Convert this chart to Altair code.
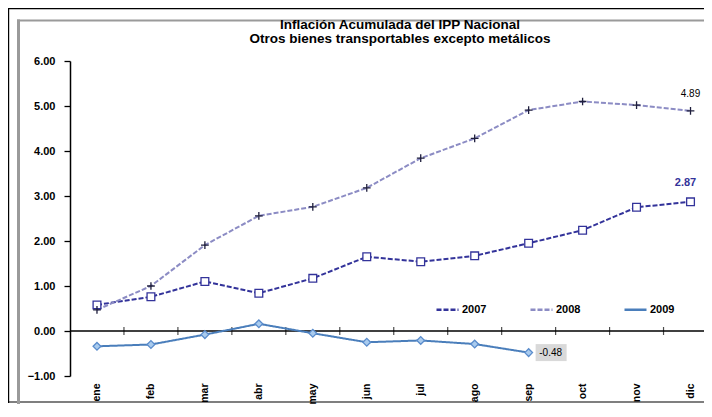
import altair as alt
import pandas as pd

months = ["ene", "feb", "mar", "abr", "may", "jun", "jul", "ago", "sep", "oct", "nov", "dic"]
years = ["2007", "2008", "2009"]
v2007 = [0.58, 0.76, 1.10, 0.84, 1.17, 1.65, 1.54, 1.67, 1.95, 2.24, 2.75, 2.87]
v2008 = [0.47, 1.00, 1.91, 2.56, 2.76, 3.18, 3.84, 4.28, 4.91, 5.10, 5.02, 4.89]
v2009 = [-0.34, -0.30, -0.08, 0.16, -0.05, -0.25, -0.21, -0.29, -0.48]
y_ticks = [-1, 0, 1, 2, 3, 4, 5, 6]
title_lines = ["Inflación Acumulada del IPP Nacional",
               "Otros bienes transportables excepto metálicos"]

line_colors = ["#33339a", "#8c8cc4", "#4a7ebb"]
marker_stroke = ["#33339a", "#1e1e3c", "#5a8ccc"]
marker_fill = ["#ffffff", "#1e1e3c", "#a9cbee"]
marker_shape = ["square", "M-1,0H1M0,-1V1", "diamond"]
dashes = [[5, 2], [5, 2], [1, 0]]

rows = []
for yr, vals in zip(years, [v2007, v2008, v2009]):
    for i, v in enumerate(vals):
        rows.append({"idx": i + 1, "mes": months[i], "year": yr, "value": v})
df = pd.DataFrame(rows)

bounds = pd.DataFrame({"b": [i + 0.5 for i in range(1, len(months))]})

label_expr = "[" + ",".join("'%s'" % m for m in months) + "][datum.value - 1]"

W, H = 634, 315

xscale = alt.Scale(domain=[0.5, 12.25], nice=False, zero=False)
yscale = alt.Scale(domain=[-1, 6], nice=False, zero=False)

x_enc = alt.X("idx:Q", scale=xscale,
              axis=alt.Axis(values=list(range(1, 13)), labelExpr=label_expr,
                            labelAngle=270, domain=False, ticks=False, tickSize=0,
                            labelPadding=7, labelFontSize=10.5, labelFontWeight="bold",
                            labelColor="black", grid=False, title=None))
y_enc = alt.Y("value:Q", scale=yscale,
              axis=alt.Axis(values=y_ticks, format=".2f", grid=False, title=None,
                            domainColor="black", domainWidth=1.5, tickColor="black",
                            tickSize=6, tickWidth=1.3, labelPadding=9, labelFontSize=11,
                            labelFontWeight="bold", labelColor="black"))

legend_kw = dict(orient="none", legendX=365, legendY=236, direction="horizontal",
                 title=None, symbolType="stroke", symbolSize=484, symbolStrokeWidth=2.5,
                 labelFontSize=11, labelFontWeight="bold", labelColor="black",
                 columnPadding=38, labelOffset=2)

base = alt.Chart(df)

lines = base.mark_line(strokeWidth=2).encode(
    x=x_enc, y=y_enc,
    color=alt.Color("year:N", scale=alt.Scale(domain=years, range=line_colors),
                    legend=alt.Legend(**legend_kw)),
    strokeDash=alt.StrokeDash("year:N", scale=alt.Scale(domain=years, range=dashes),
                              legend=alt.Legend(**legend_kw)),
)

point_layers = []
for yr, shp, stc, flc in zip(years, marker_shape, marker_stroke, marker_fill):
    point_layers.append(
        base.transform_filter(alt.datum.year == yr).mark_point(
            shape=shp, stroke=stc, fill=flc, filled=False, strokeWidth=1.3,
            opacity=1, fillOpacity=1, size=60,
        ).encode(x="idx:Q", y="value:Q")
    )

zero = alt.Chart(pd.DataFrame({"z": [0]})).mark_rule(color="black", strokeWidth=1.5).encode(
    y=alt.Y("z:Q"))

ticks = alt.Chart(bounds).mark_tick(orient="vertical", size=8, thickness=1.2, color="black").encode(
    x="b:Q", y=alt.datum(0))

def last_of(yr):
    d = df[df.year == yr].iloc[[-1]].copy()
    d["t"] = d.value.map(lambda v: "%.2f" % v)
    return d

last07, last08, last09 = last_of("2007"), last_of("2008"), last_of("2009")

lab07 = alt.Chart(last07).mark_text(dy=-19, dx=-5, fontSize=11, fontWeight="bold", color="#33339a").encode(
    x="idx:Q", y="value:Q", text="t:N")
lab08 = alt.Chart(last08).mark_text(dy=-17, fontSize=10, color="black").encode(
    x="idx:Q", y="value:Q", text="t:N")
box09 = alt.Chart(last09).mark_rect(width=31, height=17, xOffset=22.5, color="#d9d9d9").encode(
    x="idx:Q", y="value:Q")
lab09 = alt.Chart(last09).mark_text(dx=22, fontSize=10, color="black").encode(
    x="idx:Q", y="value:Q", text="t:N")

fr = alt.Chart(pd.DataFrame({"a": [0]}))
black_left = fr.mark_rule(color="black", strokeWidth=1.2).encode(
    x=alt.value(-61.4), y=alt.value(-52.5), y2=alt.value(342))
black_top = fr.mark_rule(color="black", strokeWidth=1.2).encode(
    x=alt.value(-62), x2=alt.value(W), y=alt.value(-52.4))
black_bottom = fr.mark_rule(color="black", strokeWidth=1.2).encode(
    x=alt.value(-62), x2=alt.value(W), y=alt.value(341))
gray_top = fr.mark_rule(color="#9a9a9a", strokeWidth=2).encode(
    x=alt.value(-53), x2=alt.value(W), y=alt.value(-40.5))
gray_left = fr.mark_rule(color="#9a9a9a", strokeWidth=3).encode(
    x=alt.value(-51.5), y=alt.value(-41.5), y2=alt.value(345))

chart = alt.layer(
    black_left, black_top, black_bottom, gray_top, gray_left,
    zero, ticks, lines, *point_layers, box09, lab09, lab07, lab08,
).properties(
    width=W, height=H,
    padding={"left": 62, "top": 53, "right": 0, "bottom": 28},
    autosize=alt.AutoSizeParams(type="none"),
    background="white",
    title=alt.TitleParams(text=title_lines, fontSize=13.5, fontWeight="bold",
                          font="Liberation Sans", anchor="middle", dx=13, frame="group",
                          offset=0, dy=38, lineHeight=14, color="black"),
).configure(font="Liberation Sans").configure_view(stroke=None)

chart.save("out.html", embed_options={"renderer": "svg", "actions": False})
